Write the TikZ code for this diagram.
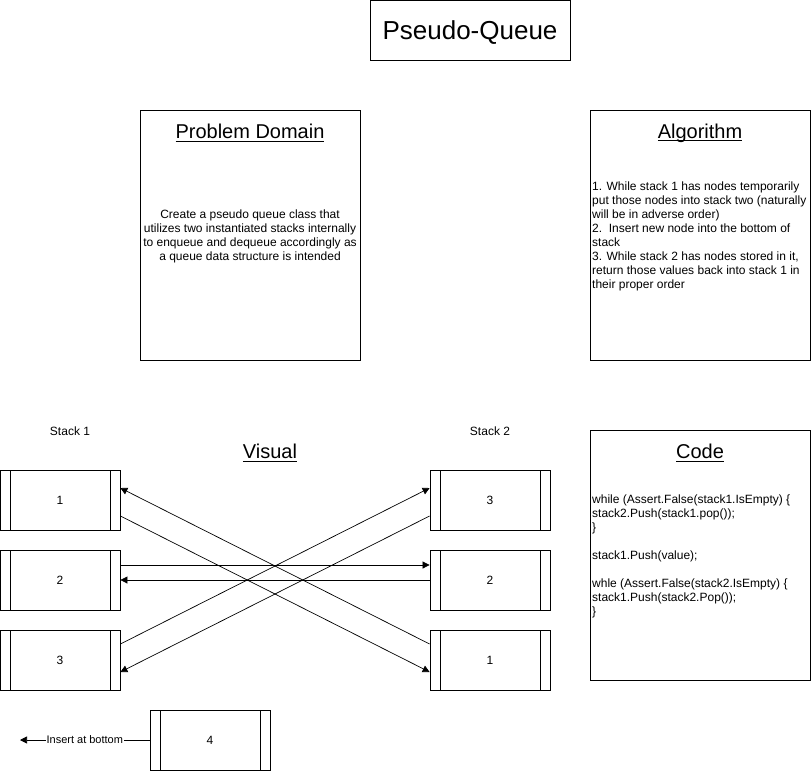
\documentclass[tikz,border=0pt]{standalone}
\usepackage{fontspec}
\setmainfont{Liberation Sans}
\usetikzlibrary{arrows.meta}
\newcommand\myul[1]{\setbox0\hbox{#1}\rlap{\rule[-2.6pt]{\wd0}{1pt}}\box0}
\begin{document}
\begin{tikzpicture}[x=1pt,y=-1pt,
  box/.style={draw,line width=0.8pt,inner sep=0pt},
  proc/.style={draw,line width=0.8pt,minimum width=120pt,minimum height=60pt,inner sep=0pt,font=\fontsize{12}{14}\selectfont,
    path picture={\draw[line width=0.8pt] ([xshift=10pt]path picture bounding box.north west) -- ([xshift=10pt]path picture bounding box.south west);
      \draw[line width=0.8pt] ([xshift=-10pt]path picture bounding box.north east) -- ([xshift=-10pt]path picture bounding box.south east);}},
  head/.style={font=\fontsize{20}{24}\selectfont,inner sep=0pt},
  body/.style={font=\fontsize{12}{14}\selectfont,inner sep=0pt},
  small/.style={font=\fontsize{12}{14}\selectfont,inner sep=0pt},
  lbl/.style={font=\fontsize{11}{13}\selectfont,inner sep=0pt},
  arr/.style={line width=0.7pt,-{Triangle[length=7pt,width=7pt]}}
]
\useasboundingbox (0,0) rectangle (811,771);
% title
\node[box,minimum width=200pt,minimum height=60pt] (title) at (470,30) {};
\node[font=\fontsize{26}{30}\selectfont,inner sep=0pt] (titlet) at (470,32.5) {Pseudo-Queue};
% problem domain
\node[box,minimum width=220pt,minimum height=250pt] (pd) at (250,235) {};
\node[head] (pdh) at (250,133) {\myul{Problem Domain}};
\node[body,align=center] (pdt) at (250,236) {Create a pseudo queue class that\\utilizes two instantiated stacks internally\\to enqueue and dequeue accordingly as\\a queue data structure is intended};
% algorithm
\node[box,minimum width=220pt,minimum height=250pt] (al) at (700,235) {};
\node[head] (alh) at (700,133) {\myul{Algorithm}};
\node[body,align=left,anchor=west] (alt) at (592,236) {1. While stack 1 has nodes temporarily\\put those nodes into stack two (naturally\\will be in adverse order)\\2.\ \ Insert new node into the bottom of\\stack\\3. While stack 2 has nodes stored in it,\\return those values back into stack 1 in\\their proper order};
% code
\node[box,minimum width=220pt,minimum height=250pt] (cd) at (700,555) {};
\node[head] (cdh) at (700,453) {\myul{Code}};
\node[body,align=left,anchor=west] (cdt) at (592,556) {while (Assert.False(stack1.IsEmpty) \{\\stack2.Push(stack1.pop());\\\}\\[14pt]stack1.Push(value);\\[14pt]whle (Assert.False(stack2.IsEmpty) \{\\stack1.Push(stack2.Pop());\\\}};
% visual
\node[head] (vis) at (270,453) {\myul{Visual}};
\node[small] (s1) at (70,431) {Stack 1};
\node[small] (s2) at (490,431) {Stack 2};
\node[proc] (L1) at (60,500) {1};
\node[proc] (L2) at (60,580) {2};
\node[proc] (L3) at (60,660) {3};
\node[proc] (R1) at (490,500) {3};
\node[proc] (R2) at (490,580) {2};
\node[proc] (R3) at (490,660) {1};
\node[proc] (B4) at (210,740) {4};
\coordinate (ins) at (20,740);
% arrows
\draw[arr] ([yshift=16pt]R3.west) -- ([yshift=12pt]L1.east);
\draw[arr] ([yshift=-16pt]L1.east) -- ([yshift=-12pt]R3.west);
\draw[arr] ([yshift=15pt]L2.east) -- ([yshift=15pt]R2.west);
\draw[arr] (R2.west) -- (L2.east);
\draw[arr] ([yshift=16pt]L3.east) -- ([yshift=12pt]R1.west);
\draw[arr] ([yshift=-16pt]R1.west) -- ([yshift=-12pt]L3.east);
\draw[arr] (B4.west) -- node[lbl,fill=white,inner xsep=1pt,pos=0.5] {Insert at bottom} (ins);
\end{tikzpicture}
\end{document}
